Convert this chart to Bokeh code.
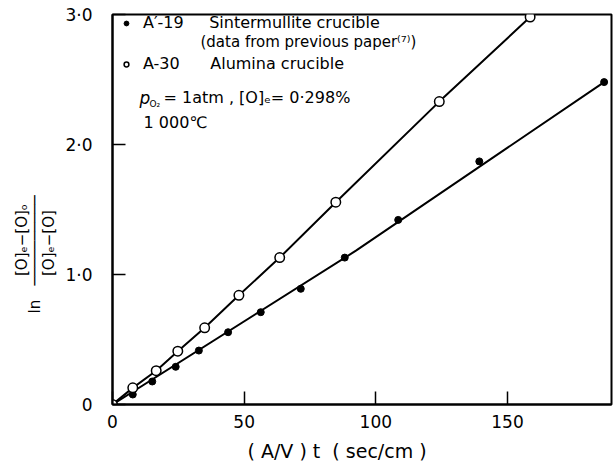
from bokeh.plotting import figure
from bokeh.models import (Range1d, FixedTicker, Label, Legend, LegendItem, Title)
from bokeh.embed import file_html
from bokeh.resources import INLINE

# ---- data ----
a19_x = [0, 7.7, 15.1, 24.0, 32.8, 43.9, 56.3, 71.5, 88.2, 108.5, 139.3, 186.7]
a19_y = [0, 0.077, 0.177, 0.29, 0.415, 0.556, 0.71, 0.89, 1.13, 1.42, 1.87, 2.48]
a30_x = [0, 7.7, 16.6, 24.8, 35.0, 48.0, 63.5, 84.8, 124.1, 158.6]
a30_y = [0, 0.128, 0.26, 0.41, 0.59, 0.84, 1.13, 1.556, 2.33, 2.98]
a19_fit_x = [0, 92.6, 186.7]
a19_fit_y = [0, 1.185, 2.48]
x_ticks = [0, 50, 100, 150]
x_tick_labels = ["0", "50", "100", "150"]
y_ticks = [0, 1, 2, 3]
y_tick_labels = ["0", "1·0", "2·0", "3·0"]

FONT = "DejaVu Sans"
W, H = 616, 468
L, R, T, B = 112, 5, 14, 64

p = figure(width=W, height=H, output_backend="svg", toolbar_location=None,
           x_range=Range1d(0, 189.5), y_range=Range1d(0, 3.0),
           min_border_left=L, min_border_right=R, min_border_top=T, min_border_bottom=B)
p.background_fill_color = "white"
p.border_fill_color = "white"
p.xgrid.visible = False
p.ygrid.visible = False
p.outline_line_color = "black"
p.outline_line_width = 2

for ax in (p.xaxis[0], p.yaxis[0]):
    ax.axis_line_width = 2
    ax.major_tick_in = 13
    ax.major_tick_out = 0
    ax.major_tick_line_width = 1.5
    ax.minor_tick_line_color = None
    ax.major_label_text_font = FONT
    ax.major_label_text_font_size = "17px"
    ax.major_label_text_color = "black"

p.xaxis.ticker = FixedTicker(ticks=x_ticks)
p.xaxis.major_label_overrides = dict(zip(x_ticks, x_tick_labels))
p.xaxis.major_label_standoff = 10
p.yaxis.ticker = FixedTicker(ticks=y_ticks)
p.yaxis.major_label_overrides = dict(zip(y_ticks, y_tick_labels))
p.yaxis.major_label_standoff = 20

# lines and points
p.line(a30_x, a30_y, line_color="black", line_width=2)
p.line(a19_fit_x, a19_fit_y, line_color="black", line_width=2)
r19 = p.scatter(a19_x, a19_y, marker="circle", size=7, fill_color="black", line_color="black")
r30 = p.scatter(a30_x, a30_y, marker="circle", size=9.5, fill_color="white",
                line_color="black", line_width=1.5)

NB = "\u00a0"
legend = Legend(items=[
    LegendItem(label="A′-19" + NB * 5 + "Sintermullite crucible", renderers=[r19]),
    LegendItem(label="A-30" + NB * 6 + "Alumina crucible", renderers=[r30]),
], location=(0, 328), margin=0, padding=3, spacing=22,
    glyph_width=22, glyph_height=12, label_height=12, label_standoff=6,
    label_text_font=FONT, label_text_font_size="16px", label_text_color="black",
    background_fill_alpha=0, border_line_alpha=0)
p.add_layout(legend)

def lab(text, x, y, size="16px", style="normal"):
    # x, y in canvas pixels (from top-left), converted to frame screen coords
    p.add_layout(Label(x=x - L, y=(H - B) - y, x_units="screen", y_units="screen",
                       text=text, text_font=FONT, text_font_size=size,
                       text_font_style=style, text_align="left",
                       text_baseline="middle", text_color="black"))

lab("(data from previous paper\u207d\u2077\u207e)", 200, 41, size="15px")
lab("p", 139, 97, size="17px", style="italic")
lab("O\u2082", 149, 103, size="9px")
lab("= 1atm ," + NB + "[O]\u2091= 0·298%", 163, 97)
lab("1" + NB + "000℃", 143, 122)

# x-axis label
p.add_layout(Title(text="( A/V ) t" + NB * 2 + "( sec/cm )", align="left", offset=135,
                   text_font=FONT, text_font_size="19px", text_font_style="normal",
                   text_color="black", standoff=14), "below")

# y-axis label: ln ( [O]e-[O]o / [O]e-[O] ), as three rotated lines
ylab = ("\u2003\u2003\u2002[O]\u2091−[O]\u2092\n"
        "ln" + NB * 3 + "─" * 10 + "\n"
        "\u2003\u2003\u2002[O]\u2091−[O]")
p.add_layout(Title(text=ylab, align="left", offset=91,
                   text_font=FONT, text_font_size="15px", text_font_style="normal",
                   text_color="black", text_line_height=0.75, standoff=10), "left")

open("out.html", "w").write(file_html(p, INLINE))
